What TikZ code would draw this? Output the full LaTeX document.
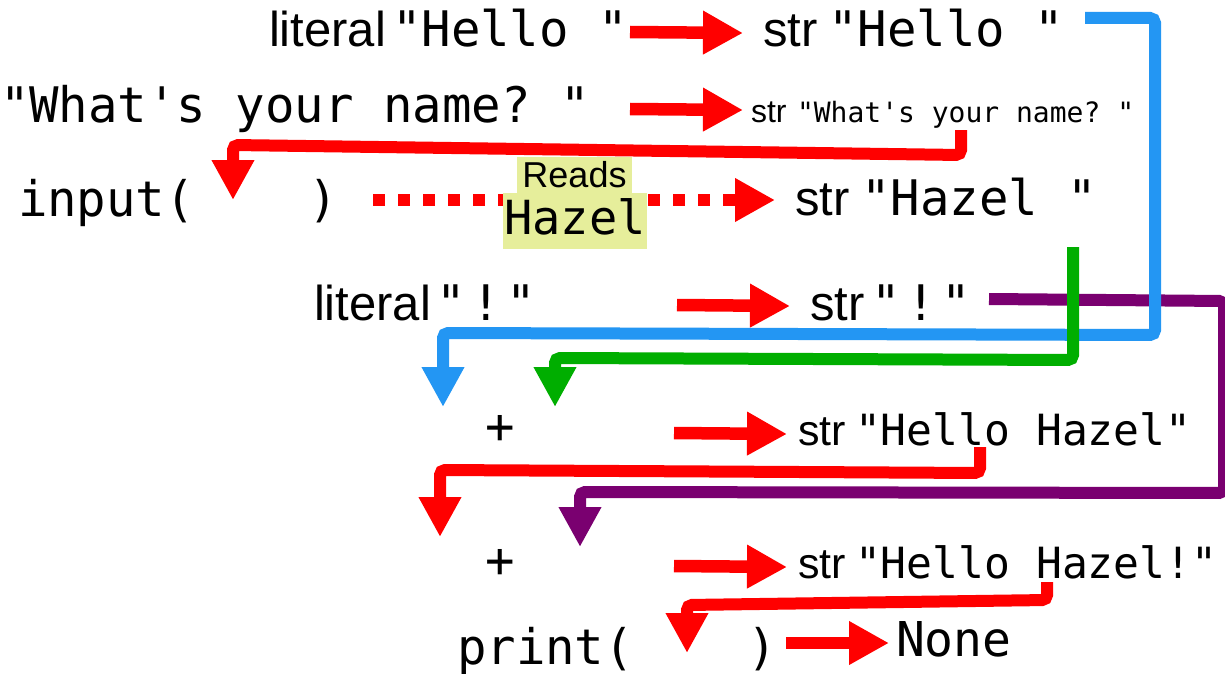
\documentclass[tikz,border=0pt]{standalone}
\usepackage{fontspec}
\setmainfont{Liberation Sans}
\setmonofont{DejaVu Sans Mono}
\usetikzlibrary{arrows.meta}
\frenchspacing
\newcommand\fsz[1]{\fontsize{#1}{#1}\selectfont}
\definecolor{flowred}{RGB}{255,0,0}
\definecolor{linkblue}{RGB}{35,150,243}
\definecolor{linkgreen}{RGB}{0,174,0}
\definecolor{linkpurple}{RGB}{122,0,112}
\definecolor{hilite}{RGB}{230,238,155}

\begin{document}
\begin{tikzpicture}[x=1pt,y=-1pt,
  lbl/.style={inner sep=0pt,outer sep=0pt,anchor=base west,font=\fsz{#1}},
  code/.style={inner sep=0pt,outer sep=0pt,anchor=base west,font=\fsz{#1}\ttfamily},
  hl/.style={fill=hilite,inner sep=0pt,outer sep=0pt},
  flow/.style={draw=flowred,line width=12.5pt,-{Triangle[length=40pt,width=41pt]}},
  readflow/.style={flow,dash pattern=on 12pt off 13pt},
  link/.style={line width=12pt,rounded corners=5pt,-{Triangle[length=40pt,width=40pt]}}]

\fill[white] (0,0) rectangle (1225,674);
\useasboundingbox (0,0) rectangle (1225,674);

% ---- values and their types ----
\node[lbl=49]  (kwA)  at (269,47)  {literal};
\node[code=49] (litA) at (392,47)  {"Hello "};
\node[lbl=49]  (tyA)  at (763,47)  {str};
\node[code=49] (valA) at (828,47)  {"Hello "};

\node[code=49]   (litB) at (0,123)   {"What's your name? "};
\node[lbl=32]    (tyB)  at (751,123) {str};
\node[code=28]   (valB) at (797,123) {"What's your name? "};

\node[code=49] (callIn) at (18,216) {input(\hspace{114pt})};
\node[lbl=49]  (tyC)  at (795,215) {str};
\node[code=49] (valC) at (861,215) {"Hazel "};

\node[lbl=49]  (kwD)  at (314,320) {literal};
\node[code=49] (litD) at (436,320) {"\hspace{6pt}!\hspace{6pt}"};
\node[lbl=49]  (tyD)  at (810,320) {str};
\node[code=49] (valD) at (871,320) {"\hspace{6pt}!\hspace{6pt}"};

\node[code=49,anchor=base] (opE) at (500,443) {+};
\node[lbl=43]  (tyE)  at (798,445) {str};
\node[code=43] (valE) at (855,445) {"Hello Hazel"};

\node[code=49,anchor=base] (opF) at (500,577) {+};
\node[lbl=43]  (tyF)  at (798,578) {str};
\node[code=43] (valF) at (855,578) {"Hello Hazel!"};

\node[code=49] (callOut) at (457,664) {print(\hspace{114pt})};
\node[code=48] (res)     at (896,656) {None};

% ---- evaluation steps ----
\coordinate (fA0) at (630,32);  \coordinate (fA1) at (743,33);
\coordinate (fB0) at (630,109); \coordinate (fB1) at (743,110);
\coordinate (fC0) at (373,200); \coordinate (fC1) at (775,200);
\coordinate (fD0) at (677,305); \coordinate (fD1) at (790,306);
\coordinate (fE0) at (674,433); \coordinate (fE1) at (787,434);
\coordinate (fF0) at (674,566); \coordinate (fF1) at (787,567);
\coordinate (fG0) at (786,643); \coordinate (fG1) at (889,643);

\draw[flow] (fA0) -- (fA1);
\draw[flow] (fB0) -- (fB1);
\draw[readflow] (fC0) -- (fC1);
\draw[flow] (fD0) -- (fD1);
\draw[flow] (fE0) -- (fE1);
\draw[flow] (fF0) -- (fF1);
\draw[flow] (fG0) -- (fG1);

% the value typed by the user
\node[hl,font=\fsz{36},minimum width=115pt,text height=30pt,text depth=6pt] (reads) at (574.5,175) {Reads};
\node[hl,font=\fsz{47}\ttfamily,minimum width=144pt,text height=41pt,text depth=15pt] (hazel) at (575,221) {Hazel};

% ---- values passed on as arguments / operands ----
\coordinate (pS) at (989,299);  \coordinate (pE) at (580,547);
\coordinate (bS) at (1085,18);  \coordinate (bE) at (443,407);
\coordinate (gS) at (1073,247); \coordinate (gE) at (555,407);
\coordinate (qS) at (961,130);  \coordinate (qE) at (233,200);
\coordinate (hS) at (980,447);  \coordinate (hE) at (440,537);
\coordinate (kS) at (1047,582); \coordinate (kE) at (687,653);

\draw[link,linkpurple] (pS) -- (1224,301) -- (1224,493) -- (580,492) -- (pE);
\draw[link,linkblue]   (bS) -- (1155,18) -- (1155,335) -- (443,333) -- (bE);
\draw[link,linkgreen]  (gS) -- (1073,360) -- (555,358) -- (gE);
\draw[link,flowred]    (qS) -- (961,155) -- (233,145) -- (qE);
\draw[link,flowred]    (hS) -- (980,473) -- (440,470) -- (hE);
\draw[link,flowred]    (kS) -- (1047,600) -- (687,605) -- (kE);
\end{tikzpicture}
\end{document}
